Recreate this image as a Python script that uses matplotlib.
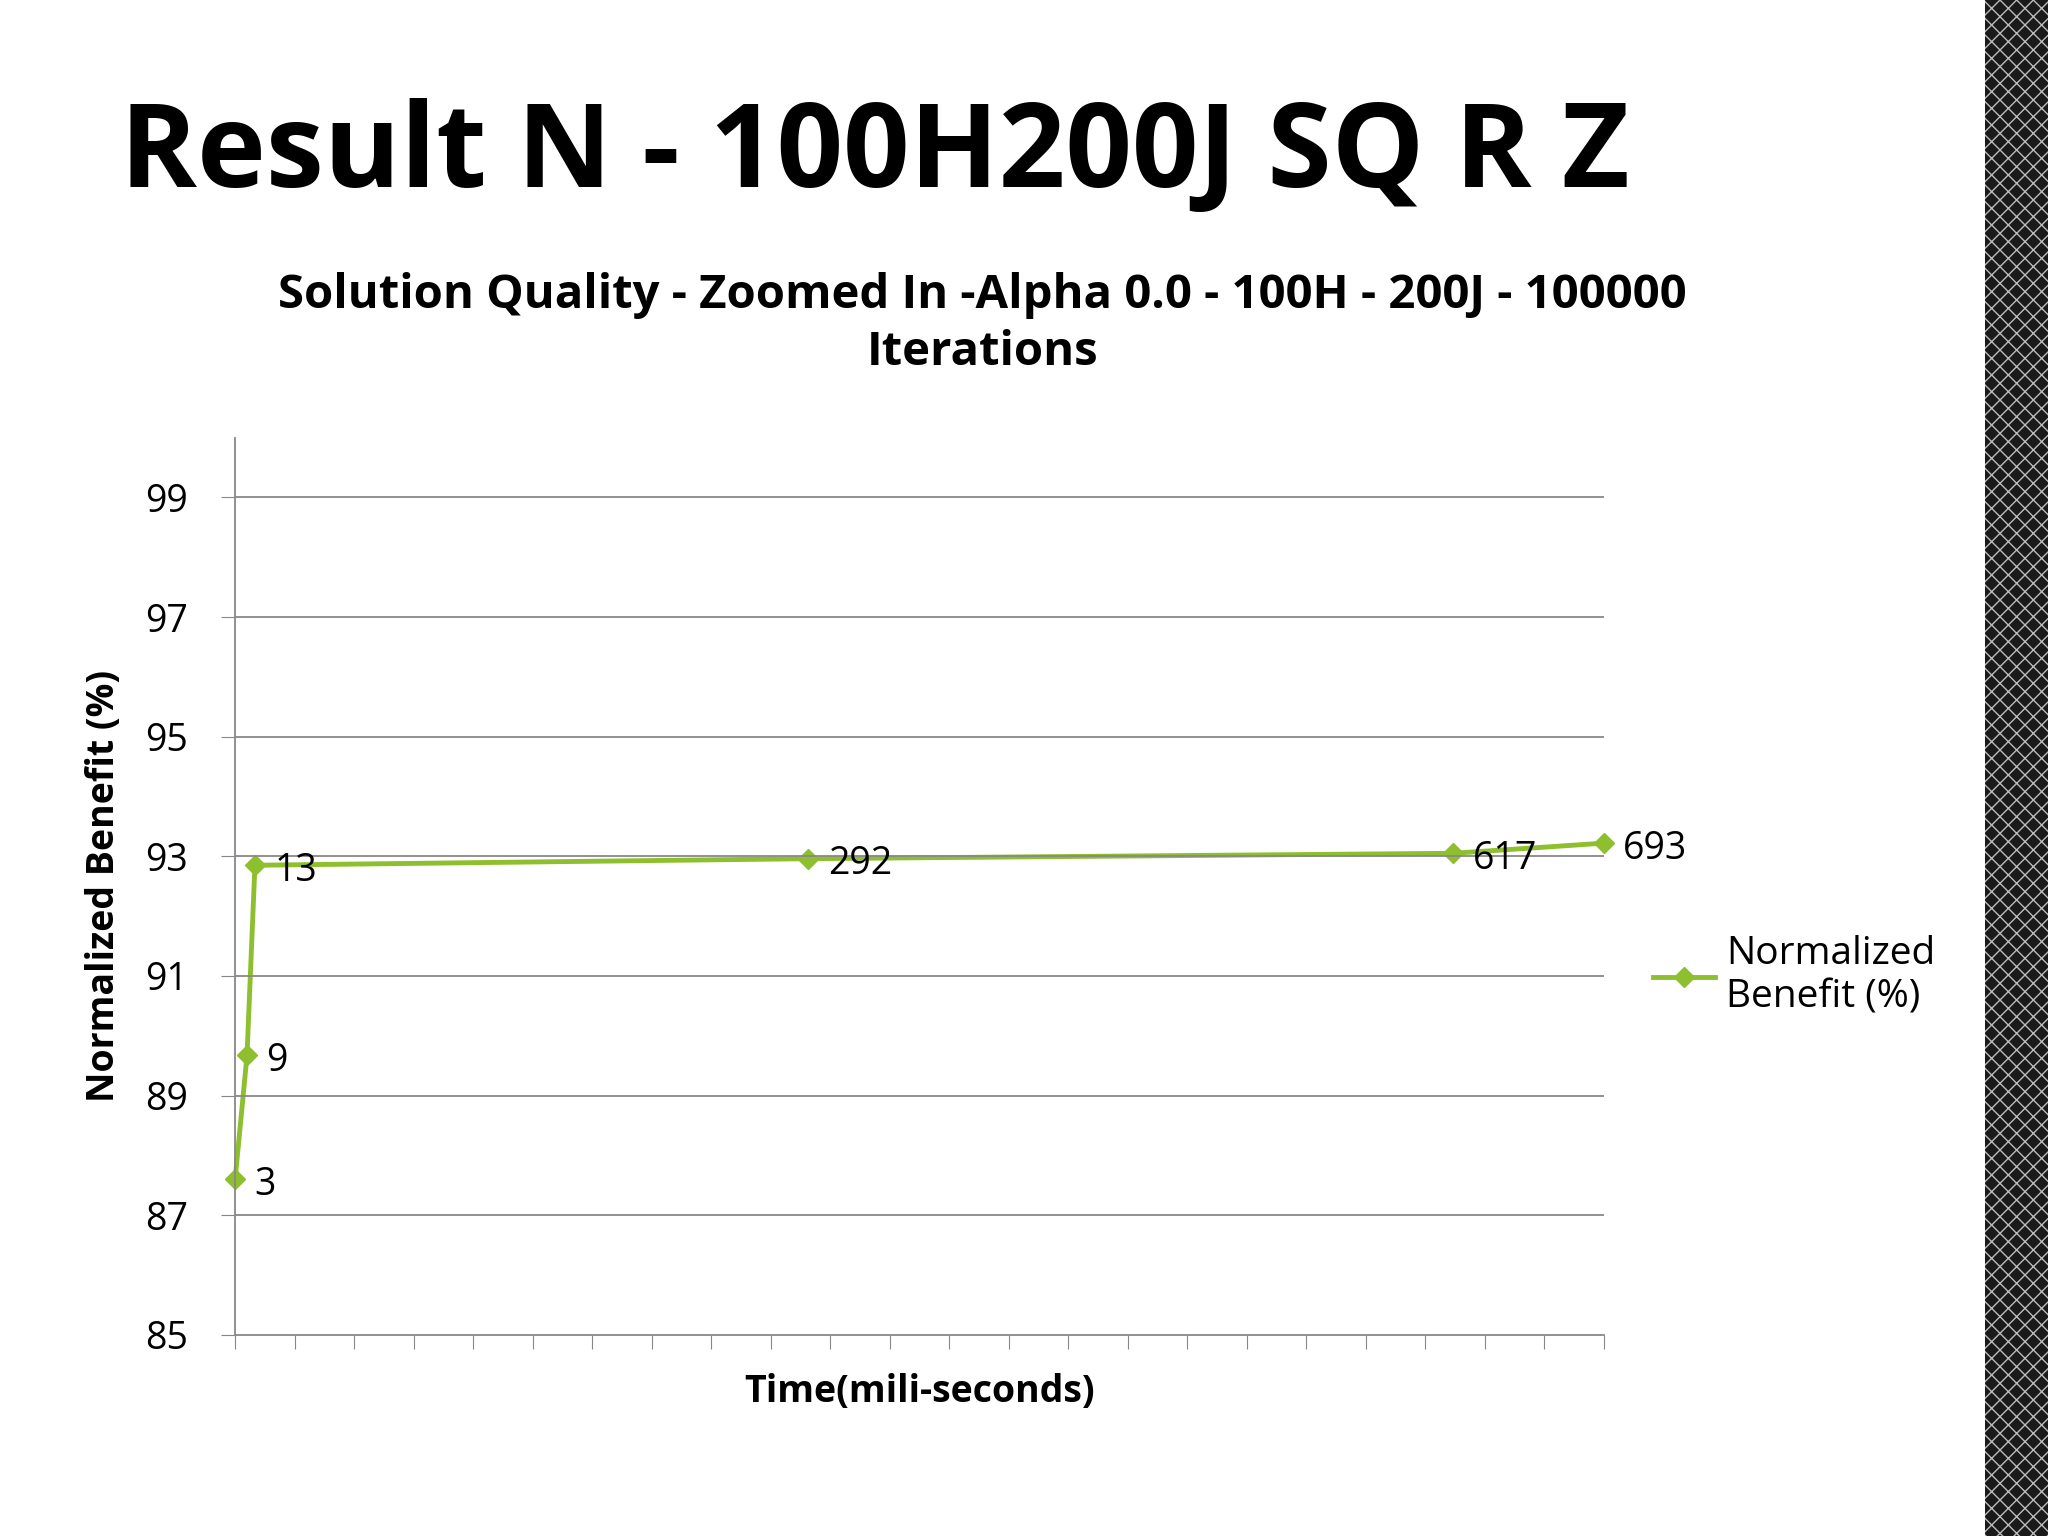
import matplotlib
matplotlib.use("Agg")
import matplotlib.pyplot as plt
from matplotlib.patches import Rectangle

time_ms = [3, 9, 13, 292, 617, 693]
benefit = [87.6, 89.67, 92.85, 92.96, 93.05, 93.22]
labels = ["3", "9", "13", "292", "617", "693"]
yticks = [85, 87, 89, 91, 93, 95, 97, 99]

plt.rcParams['font.family'] = ['Open Sans', 'DejaVu Sans']
fig = plt.figure(figsize=(20.48, 15.36), dpi=100)
W, H = 1568, 1176

# decorative right strip
fig.patches.append(Rectangle((1518/W, 0), 1 - 1518/W, 1, transform=fig.transFigure,
                             facecolor='#1a1a1a', edgecolor='#bbbbbb', hatch='xx', lw=0))
fig.patches.append(Rectangle((1516/W, 0), 4/W, 1, transform=fig.transFigure, facecolor='white', lw=0))

fig.text(92/W, 1 - 120/H, "Result N - 100H200J SQ R Z", fontsize=84, fontweight='bold', va='center', ha='left')
fig.text(752/W, 1 - 248/H, "Solution Quality - Zoomed In -Alpha 0.0 - 100H - 200J - 100000\nIterations",
         fontsize=34, fontweight='bold', ha='center', va='center', linespacing=1.3)

ax = fig.add_axes([180/W, 1 - 1022/H, (1228 - 180)/W, (1022 - 335)/H])
color = '#8DBF2E'
ax.plot(time_ms, benefit, color=color, lw=3.5, marker='D', ms=10, label='Normalized\nBenefit (%)',
        clip_on=False)
for x, y, t in zip(time_ms, benefit, labels):
    ax.annotate(t, (x, y), xytext=(14, -4), textcoords='offset points', fontsize=27, va='center', ha='left')
ax.set_xlim(3, 693)
ax.set_ylim(85, 100)
ax.set_yticks(yticks)
ax.set_yticklabels([str(v) for v in yticks], fontsize=27)
ax.set_xticks(list(range(3, 693, 30)) + [693])
ax.set_xticklabels([])
ax.tick_params(axis='x', length=10, color='#888888')
ax.tick_params(axis='y', length=10, color='#888888', pad=24)
for y in yticks[1:]:
    ax.axhline(y, color='#888888', lw=1.3)
for s in ['top', 'right']:
    ax.spines[s].set_visible(False)
for s in ['left', 'bottom']:
    ax.spines[s].set_color('#888888')
    ax.spines[s].set_linewidth(1.3)
ax.set_xlabel("Time(mili-seconds)", fontsize=27, fontweight='bold', labelpad=14)
ax.set_ylabel("Normalized Benefit (%)", fontsize=27, fontweight='bold', labelpad=16)
ax.legend(loc='center left', bbox_to_anchor=(1.01, 0.4), frameon=False, fontsize=28,
          handlelength=1.6, handletextpad=0.3)
fig.savefig("out.png", dpi=100)
